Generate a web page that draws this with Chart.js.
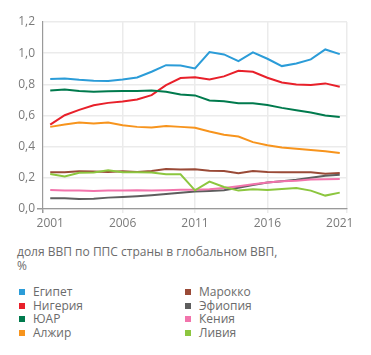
<!DOCTYPE html>
<html>
<head>
<meta charset="utf-8">
<script src="https://cdn.jsdelivr.net/npm/chart.js@4.4.1/dist/chart.umd.min.js"></script>
<style>
  html, body { margin: 0; padding: 0; background: #fff; }
  body { width: 371px; height: 355px; position: relative; overflow: hidden; font-family: "Open Sans", sans-serif; color: #6b6b6b; }
  #wrap { position: absolute; left: 0; top: 0; width: 371px; height: 232px; }
  #sub { position: absolute; left: 17px; top: 245px; font-size: 12px; line-height: 13.5px; color: #6b6b6b; }
  .leg { position: absolute; font-size: 12px; line-height: 13.3px; color: #6b6b6b; white-space: nowrap; }
  .leg span.sq { position: absolute; left: 0; top: 4px; width: 6px; height: 6px; }
  .leg span.t { position: absolute; left: 14px; top: 0; }
</style>
</head>
<body>
<div id="wrap"><canvas id="c" width="371" height="232"></canvas></div>
<div id="sub">доля ВВП по ППС страны в глобальном ВВП,<br>%</div>
<div id="legend"></div>
<script>
const years = [2001,2002,2003,2004,2005,2006,2007,2008,2009,2010,2011,2012,2013,2014,2015,2016,2017,2018,2019,2020,2021];
const seriesNames = ["Египет","Нигерия","ЮАР","Алжир","Марокко","Эфиопия","Кения","Ливия"];
const seriesColors = ["#2b9cd8","#e8202a","#007a4d","#f7941d","#9a4a37","#5e5e5e","#f274ac","#8cc63f"];
const egypt    = [0.834,0.838,0.829,0.823,0.821,0.831,0.844,0.881,0.923,0.921,0.902,1.007,0.992,0.949,1.005,0.964,0.917,0.934,0.960,1.024,0.994];
const nigeria  = [0.542,0.602,0.636,0.666,0.681,0.690,0.703,0.731,0.795,0.840,0.846,0.831,0.851,0.887,0.881,0.842,0.812,0.799,0.795,0.806,0.784];
const sar      = [0.761,0.767,0.758,0.752,0.756,0.758,0.758,0.761,0.752,0.735,0.729,0.697,0.692,0.679,0.679,0.668,0.649,0.634,0.619,0.600,0.591];
const algeria  = [0.527,0.542,0.555,0.549,0.555,0.538,0.527,0.523,0.533,0.527,0.521,0.497,0.476,0.465,0.429,0.409,0.394,0.386,0.379,0.371,0.360];
const morocco  = [0.236,0.236,0.242,0.240,0.238,0.242,0.238,0.244,0.257,0.253,0.255,0.246,0.244,0.229,0.244,0.238,0.236,0.236,0.236,0.227,0.231];
const ethiopia = [0.069,0.069,0.064,0.066,0.073,0.077,0.082,0.088,0.096,0.105,0.112,0.116,0.120,0.137,0.154,0.170,0.178,0.187,0.200,0.214,0.219];
const kenya    = [0.122,0.118,0.118,0.116,0.118,0.118,0.120,0.118,0.120,0.124,0.124,0.126,0.135,0.146,0.159,0.170,0.178,0.182,0.189,0.191,0.193];
const libya    = [0.225,0.208,0.232,0.234,0.249,0.236,0.236,0.234,0.223,0.223,0.120,0.176,0.141,0.118,0.126,0.122,0.128,0.135,0.118,0.086,0.105];
const seriesValues = [egypt, nigeria, sar, algeria, morocco, ethiopia, kenya, libya];
const xTickValues = [2001,2006,2011,2016,2021];
const yTickValues = [0,0.2,0.4,0.6,0.8,1.0,1.2];

// draw order: put Egypt etc on top similar to reference
const drawOrder = [7,6,5,4,3,2,1,0];
const datasets = drawOrder.map(i => ({
  label: seriesNames[i],
  data: years.map((y, k) => ({x: y, y: seriesValues[i][k]})),
  borderColor: seriesColors[i],
  backgroundColor: seriesColors[i],
  borderWidth: 2,
  pointRadius: 0,
  tension: 0,
  fill: false
}));

const gridC = '#ebebeb';
const axisC = '#9a9a9a';

new Chart(document.getElementById('c'), {
  type: 'line',
  data: { datasets },
  options: {
    responsive: false,
    animation: false,
    events: [],
    layout: { padding: { left: 0, top: 22, right: 24, bottom: 0 } },
    plugins: { legend: { display: false }, tooltip: { enabled: false } },
    scales: {
      x: {
        type: 'linear',
        min: 2000.5,
        max: 2021.5,
        afterBuildTicks: (s) => { s.ticks = [2000.5].concat(xTickValues, [2021.5]).map(v => ({value: v})); },
        afterFit: (s) => { s.height = 23; },
        ticks: {
          autoSkip: false, maxRotation: 0, padding: 3,
          color: '#7a7a7a', font: { family: 'Open Sans', size: 12 },
          callback: (v) => Number.isInteger(v) ? String(v) : ''
        },
        grid: {
          lineWidth: 1.5,
          tickLength: 4,
          color: (c) => { const v = c.tick && c.tick.value; return (v === 2006 || v === 2011 || v === 2016 || v === 2021.5) ? gridC : 'rgba(0,0,0,0)'; },
          tickColor: (c) => { const v = c.tick && c.tick.value; if (v === 2000.5) return axisC; return (v === 2006 || v === 2011 || v === 2016 || v === 2021.5) ? gridC : 'rgba(0,0,0,0)'; }
        },
        border: { display: true, color: axisC, width: 1.2 }
      },
      y: {
        min: 0, max: 1.2,
        afterBuildTicks: (s) => { s.ticks = yTickValues.map(v => ({value: v})); },
        afterFit: (s) => { s.width = 43; },
        ticks: {
          padding: 2,
          color: '#7a7a7a', font: { family: 'Open Sans', size: 12 },
          callback: (v) => Number(v).toFixed(1).replace('.', ',')
        },
        grid: {
          lineWidth: 1.5,
          tickLength: 6,
          color: gridC,
          tickColor: (c) => (c.tick && c.tick.value === 0) ? axisC : 'rgba(0,0,0,0)'
        },
        border: { display: true, color: axisC, width: 1.2 }
      }
    }
  }
});

// HTML legend built from the arrays
const legend = document.getElementById('legend');
const colLeft = [19, 185];
const rowTop = [285, 298.5, 312, 325.5];
seriesNames.forEach((name, i) => {
  const col = Math.floor(i / 4), row = i % 4;
  const d = document.createElement('div');
  d.className = 'leg';
  d.style.left = colLeft[col] + 'px';
  d.style.top = rowTop[row] + 'px';
  d.innerHTML = '<span class="sq" style="background:' + seriesColors[i] + '"></span><span class="t">' + name + '</span>';
  legend.appendChild(d);
});
</script>
</body>
</html>
